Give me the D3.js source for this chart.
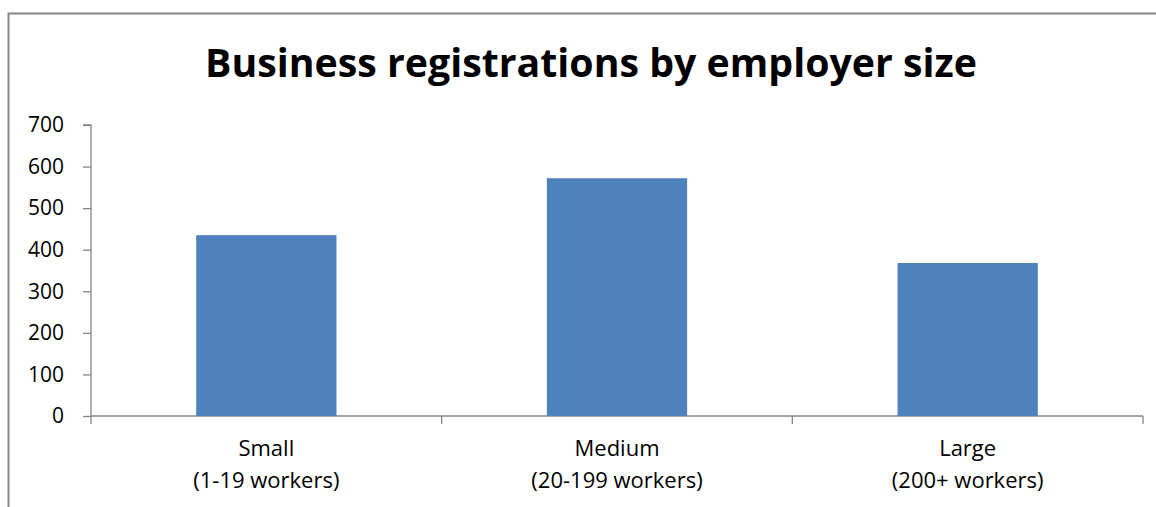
<!DOCTYPE html>
<html><head><meta charset="utf-8">
<script src="https://cdn.jsdelivr.net/npm/d3@7"></script>
<style>body{margin:0;background:#fff}svg{display:block}</style>
</head><body><svg id="c" width="1156" height="507"></svg>
<script>
const categories = ["Small", "Medium", "Large"];
const subLabels = ["(1-19 workers)", "(20-199 workers)", "(200+ workers)"];
const values = [435, 572, 368];
const yTicks = [0, 100, 200, 300, 400, 500, 600, 700];
const title = "Business registrations by employer size";

const svg = d3.select("#c");
const font = "'Open Sans', sans-serif";
// chart frame
svg.append("rect").attr("x", 8.5).attr("y", 13.5).attr("width", 1200).attr("height", 600)
  .attr("fill", "none").attr("stroke", "#868686").attr("stroke-width", 2);

const x0 = 91, x1 = 1143, yTop = 125, yBot = 416;
const x = d3.scaleBand().domain(categories).range([x0, x1]).paddingInner(0.6).paddingOuter(0.3);
const y = d3.scaleLinear().domain([0, 700]).range([yBot, yTop]);

const t = svg.append("text").attr("x", 591).attr("y", 77).attr("text-anchor", "middle")
  .attr("font-family", font).attr("font-weight", "bold").attr("font-size", 40).attr("fill", "#000").text(title);
const w = t.node().getComputedTextLength();
t.attr("font-size", 40 * 772 / w);

const yAxis = svg.append("g").attr("transform", `translate(${x0},0)`)
  .call(d3.axisLeft(y).tickValues(yTicks).tickSize(8).tickPadding(19).tickFormat(d3.format("d")));
yAxis.select(".domain").attr("stroke", "#868686").attr("stroke-width", 1.3).attr("d", `M-8,${yTop}H0V${yBot}`);
yAxis.selectAll(".tick line").attr("stroke", "#868686").attr("stroke-width", 1.3);
yAxis.selectAll("text").attr("font-family", font).attr("font-size", 21).attr("fill", "#000");

// x axis
const xg = svg.append("g").attr("transform", `translate(0,${yBot})`);
xg.append("line").attr("x1", x0).attr("x2", x1).attr("stroke", "#868686").attr("stroke-width", 1.3);
const bounds = d3.range(categories.length + 1).map(i => x0 + i * (x1 - x0) / categories.length);
xg.selectAll("line.t").data(bounds).join("line").attr("class", "t")
  .attr("x1", d => d).attr("x2", d => d).attr("y1", 0).attr("y2", 8)
  .attr("stroke", "#868686").attr("stroke-width", 1.3);

svg.selectAll("rect.bar").data(values).join("rect").attr("class", "bar")
  .attr("x", (d, i) => x(categories[i])).attr("width", x.bandwidth())
  .attr("y", d => y(d)).attr("height", d => y(0) - y(d)).attr("fill", "#4f81bd");

const lbl = svg.append("g");
categories.forEach((c, i) => {
  const cx = x(c) + x.bandwidth() / 2;
  lbl.append("text").attr("x", cx).attr("y", 456).attr("text-anchor", "middle")
    .attr("font-family", font).attr("font-size", 22).attr("fill", "#000").text(c);
  lbl.append("text").attr("x", cx).attr("y", 488).attr("text-anchor", "middle")
    .attr("font-family", font).attr("font-size", 22).attr("fill", "#000").text(subLabels[i]);
});
</script></body></html>
